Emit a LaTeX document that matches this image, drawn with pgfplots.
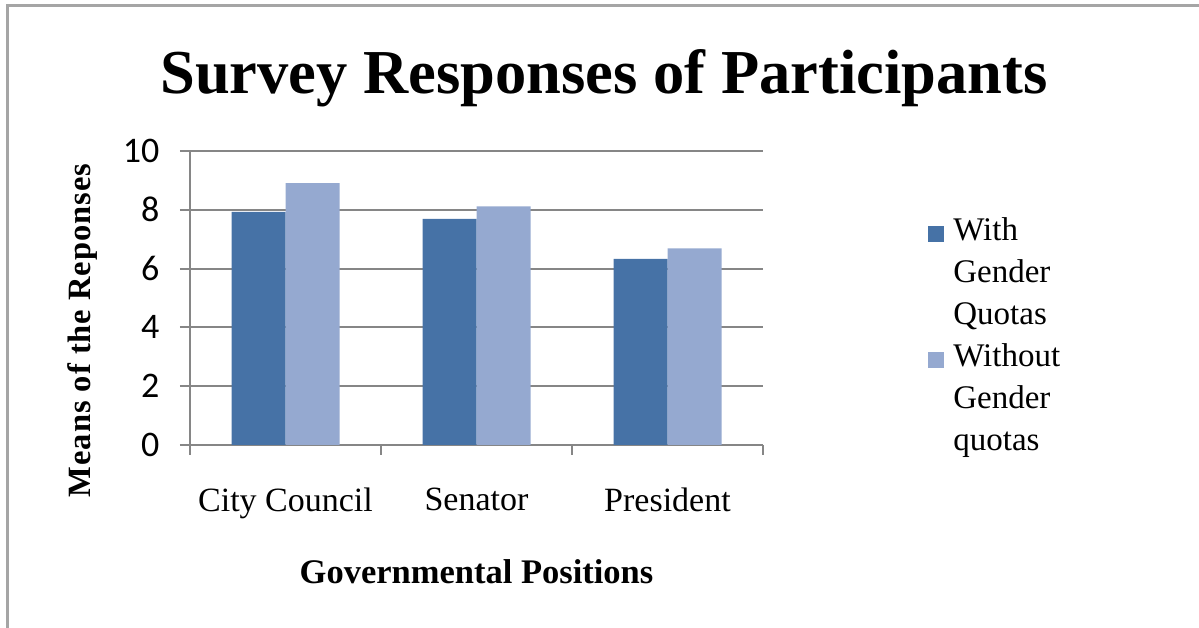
\documentclass[border=0pt]{standalone}
\usepackage{fontspec}
\setmainfont{Liberation Serif}
\newfontfamily\carlito{Carlito}
\newfontfamily\ylabfont[LetterSpace=3.0]{Liberation Serif}
\usepackage{pgfplots}
\pgfplotsset{compat=1.18}
\definecolor{darkbar}{RGB}{70,114,166}
\definecolor{lightbar}{RGB}{149,169,208}
\definecolor{gridgray}{RGB}{134,134,134}
\definecolor{framegray}{RGB}{165,165,165}
\begin{document}
\begin{tikzpicture}[x=1pt,y=1pt]
\useasboundingbox (0,0) rectangle (1199,628);
\draw[framegray, line width=3pt] (7,0) -- (7,622) -- (1199,622);
\node[font=\fontsize{62.5}{70}\selectfont\bfseries] at (604,550) {Survey Responses of Participants};
\begin{axis}[
  at={(190pt,183pt)}, anchor=south west,
  scale only axis, width=573pt, height=294pt,
  ymin=0, ymax=10, ytick={0,2,...,10},
  xmin=-0.5, xmax=2.5,
  xtick={0,1,2}, xticklabels={City Council,Senator,President},
  major x tick style={draw=none},
  extra x ticks={-0.5,0.5,1.5,2.5},
  extra x tick labels={},
  extra x tick style={major tick length=10pt, tick align=outside, major x tick style={draw=gridgray, line width=2pt}},
  axis x line*=bottom, axis y line*=left,
  axis line style={gridgray, line width=2pt},
  ymajorgrids, grid style={gridgray, line width=2pt},
  tick align=outside, major tick length=10pt,
  major y tick style={gridgray, line width=2pt},
  /pgf/number format/assume math mode=true,
  yticklabel style={font=\carlito\fontsize{36}{40}\selectfont, xshift=-17pt},
  xticklabel style={font=\fontsize{34}{38}\selectfont, yshift=-29pt},
  xlabel={Governmental Positions},
  xlabel style={font=\fontsize{34.5}{38}\selectfont\bfseries, at={(axis description cs:0.5,-0.43)}, anchor=center},
  ylabel={Means of the Reponses},
  ylabel style={font=\ylabfont\fontsize{32.5}{36}\selectfont\bfseries, at={(axis description cs:-0.188,0.39)}, anchor=center},
  bar width=54pt,
  legend style={at={(axis description cs:1.283,0.787)}, anchor=north west, draw=none, fill=none,
    font=\fontsize{33}{36}\selectfont, row sep=8pt, column sep=9pt,
    nodes={inner sep=0pt, text height=25pt, text depth=9pt}},
  legend cell align=left,
]
\addplot[ybar, bar shift=-27pt, fill=darkbar, draw=none,
  legend image code/.code={\fill[darkbar] (0pt,-9pt) rectangle (16pt,7pt);}]
  coordinates {(0,7.93) (1,7.69) (2,6.33)};
\addlegendentry{With}
\addlegendimage{empty legend}\addlegendentry{Gender}
\addlegendimage{empty legend}\addlegendentry{Quotas}
\addplot[ybar, bar shift=27pt, fill=lightbar, draw=none,
  legend image code/.code={\fill[lightbar] (0pt,-9pt) rectangle (16pt,7pt);}]
  coordinates {(0,8.91) (1,8.12) (2,6.69)};
\addlegendentry{Without}
\addlegendimage{empty legend}\addlegendentry{Gender}
\addlegendimage{empty legend}\addlegendentry{quotas}
\end{axis}
\end{tikzpicture}
\end{document}
